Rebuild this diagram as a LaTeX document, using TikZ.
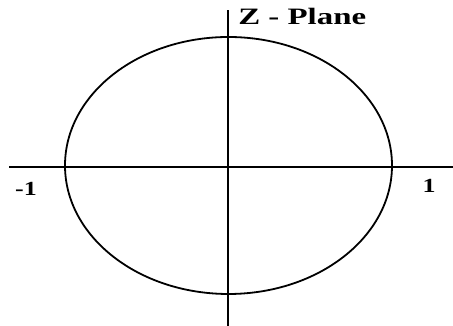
\documentclass[tikz,border=0pt]{standalone}
\usepackage{fontspec}
\setmainfont{Liberation Serif}
\usetikzlibrary{positioning}

\begin{document}
\begin{tikzpicture}[
      x=1pt,y=1pt,
      axis/.style={line width=2pt,draw=black},
      unitcircle/.style={line width=1.8pt,draw=black},
      planelabel/.style={
        inner sep=0pt,
        xscale=1.4,
        font=\fontsize{23.5}{26}\selectfont\bfseries
      },
      ticklabel/.style={
        inner sep=0pt,
        xscale=1.3,
        font=\fontsize{20}{22}\selectfont\bfseries
      }
    ]
    \useasboundingbox (0,0) rectangle (453,326);
    % axes
    \coordinate (west) at (9,159);
    \coordinate (east) at (453,159);
    \coordinate (south) at (228,0);
    \coordinate (north) at (228,316);
    \draw[axis] (west) -- (east);
    \draw[axis] (south) -- (north);
    % circle
    \coordinate (origin) at (228.5,160.5);
    \draw[unitcircle] (origin) ellipse [x radius=163.5,y radius=128.5];
    % labels
    \node[planelabel,anchor=base west] (plane) at (238,301) {Z - Plane};
    \node[ticklabel] (minusone) at (26,137) {-1};
    \node[ticklabel] (one) at (429,140) {1};
  \end{tikzpicture}
\end{document}
